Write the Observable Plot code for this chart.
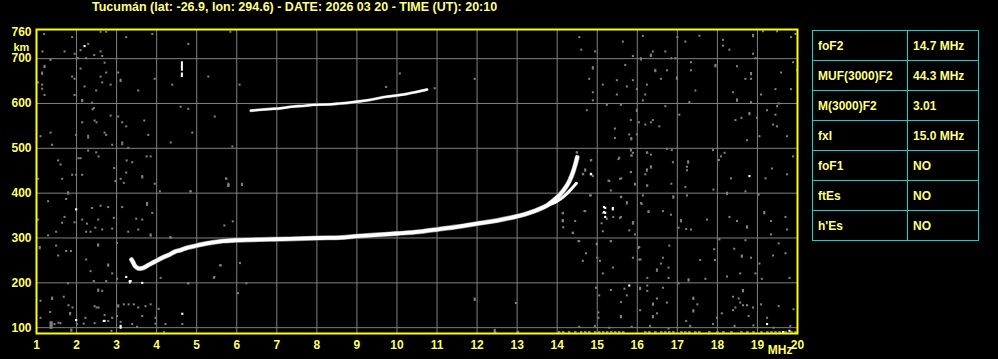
<!DOCTYPE html>
<html><head><meta charset="utf-8">
<script src="https://cdn.jsdelivr.net/npm/d3@7"></script>
<script src="https://cdn.jsdelivr.net/npm/@observablehq/plot@0.6"></script>
<style>
html,body{margin:0;padding:0;background:#000;}
#wrap{position:relative;width:998px;height:359px;overflow:hidden;background:#000;font-family:"Liberation Sans",Arial,sans-serif;font-weight:bold;}
#wrap svg{position:absolute;left:0;top:0;}
#title{position:absolute;left:92px;top:0px;font-size:12.5px;line-height:14px;color:#ffff80;white-space:nowrap;}
#params{position:absolute;left:812px;top:30px;border-collapse:collapse;}
#params td{border:1px solid #00d8d8;height:29px;padding:0 0 0 5px;font-size:12px;color:#ffff80;white-space:nowrap;vertical-align:middle;}
#params td.k{width:89px;}
#params td.v{width:65px;}
</style>
</head><body>
<div id="wrap"><div id="title"></div><table id="params"></table></div>
<script>
const titleText = "Tucumán (lat: -26.9, lon: 294.6) - DATE: 2026 03 20 - TIME (UT): 20:10";
const paramNames = ["foF2", "MUF(3000)F2", "M(3000)F2", "fxI", "foF1", "ftEs", "h'Es"];
const paramValues = ["14.7 MHz", "44.3 MHz", "3.01", "15.0 MHz", "NO", "NO", "NO"];
const xTicks = [1,2,3,4,5,6,7,8,9,10,11,12,13,14,15,16,17,18,19,20];
const yTicks = [100,200,300,400,500,600,700,760];
const yGrid = [100,200,300,400,500,600,700];

// F2 ordinary trace (MHz, km)
const oTraceF = [3.37,3.41,3.45,3.49,3.55,3.65,3.8,3.95,4.14,4.3,4.47,4.6,4.75,4.9,5.14,5.4,5.64,5.97,6.4,6.82,7.3,8.07,8.6,9.0,9.5,10.0,10.57,11.07,11.5,12.07,12.5,13.07,13.3,13.57,13.75,13.9,14.05,14.15,14.25,14.32,14.4,14.46,14.5];
const oTraceH = [252,246,239,235,232,233,240,247,256,262,270,273,278,281,286,290,293,295,296,297,298,300,301,304,307,310,314,320,325,333,339,350,356,365,373,383,395,405,418,430,448,466,480];
// F2 extraordinary trace
const xTraceF = [13.4,13.6,13.75,13.98,14.1,14.23,14.35,14.48];
const xTraceH = [358,366,372,381,388,398,409,422];
// second hop F2 trace
const hop2F = [6.35,6.6,6.9,7.07,7.4,7.7,7.9,8.3,8.57,8.9,9.32,9.73,10.0,10.23,10.5,10.75];
const hop2H = [584,586,588,589,593,595,597,598,600,603,608,615,618,621,626,631];
// short vertical echo
const echoF = [4.63,4.63];
const echoLow = [672,658];
const echoHigh = [693,668];

// grey noise echoes [MHz, km]
const noise = [
[1.19,755],[1.89,748],[2.6,760],[2.74,760],[3.24,748],[3.89,755],[4.79,733],[5.84,760],[1.15,716],[1.7,716],[1.95,711],[2.1,719],[2.29,733],[2.44,708],[2.64,706],[2.6,716],[2.03,701],[2.24,701],[1.35,697],[1.2,684],[1.2,681],[1.14,669],[1.14,666],[2.7,691],[2.1,678],[2.74,669],[3.04,669],[2.6,660],[3.1,653],[3.1,650],[1.89,660],[1.95,655],[2.64,647],[2.85,642],[3.95,655],[4.39,642],[5.29,660],[1.04,647],[1.14,642],[1.14,633],[1.2,619],[2.2,638],[2.49,629],[1.95,619],[3.54,629],[2.14,608],[2.14,605],[2.39,602],[2.43,590],[2.4,587],[2.85,573],[3.04,571],[3.14,558],[3.24,549],[3.69,562],[4.6,593],[4.79,588],[5.45,571],[2.14,558],[2.5,558],[2.45,562],[1.35,535],[1.1,527],[1.99,530],[2.29,528],[2.29,524],[2.7,535],[2.74,530],[3.79,530],[4.89,535],[4.35,513],[3.14,513],[3.14,509],[1.39,508],[2.89,508],[3.29,501],[5.89,504],[2.29,495],[2.49,491],[2.55,482],[2.05,478],[2.1,478],[1.54,473],[1.6,464],[3.25,473],[3.39,469],[3.75,482],[3.85,482],[2.94,456],[3.24,446],[3.64,438],[3.64,435],[1.89,441],[1.99,441],[2.14,441],[1.64,432],[3.1,432],[5.74,432],[1.04,432],
[1.79,402],[1.79,399],[2.97,427],[3.18,423],[3.95,421],[4.85,404],[5.79,419],[5.79,416],[1.29,382],[1.74,387],[2.39,367],[2.6,372],[2.79,369],[3.14,369],[3.76,378],[3.76,374],[3.89,356],[1.7,347],[1.04,341],[1.64,334],[1.95,335],[2.14,341],[2.54,341],[2.26,332],[2.93,345],[3.49,343],[3.64,341],[2.47,323],[2.64,319],[2.89,321],[2.24,314],[2.35,314],[3.29,314],[3.54,319],[3.85,308],[3.85,305],[1.29,306],[1.49,314],[1.08,280],[1.08,277],[1.49,283],[1.74,271],[1.86,271],[1.54,261],[2.54,286],[2.54,283],[3.01,289],[2.24,252],[2.79,241],[2.79,238],[2.35,226],[2.89,221],[3.01,209],[2.74,204],[4.1,211],[4.35,300],[5.6,239],[5.43,211],[4.79,199],[1.79,199],[2.43,204],[2.54,185],[2.54,182],[2.64,182],[1.68,169],[1.39,167],[1.39,164],[1.1,160],[1.8,150],[1.9,145],[2.45,148],[2.55,145],[2.5,145],[3.04,150],[3.04,147],[3.18,152],[3.3,152],[3.43,152],[3.54,145],[3.72,148],[3.85,152],[4.05,142],[1.34,135],[1.84,133],[1.84,130],[2.22,122],[2.7,128],[2.89,122],[3.01,126],[3.64,126],[3.97,122],[1.1,122],[1.55,111],[2.01,108],[2.18,109],[2.45,110],[2.79,115],[3.1,113],[3.39,108],[3.51,102],[3.97,109],[4.22,108],[4.64,108],[1.87,93],[1.87,96],[2.87,93],[4.18,90],[1.35,104],[1.38,104],[1.35,108],[1.38,108],[1.35,112],[1.38,112],[1.35,100],[1.38,100],[1.45,108],[1.6,110],
[10.07,667],[11.94,655],[11.94,162],[11.94,165],[6.03,177],[12.44,92],[12.44,95],[12.97,155],[13.02,90],[9.73,637],[10.94,634],[6.07,642],[5.73,433],[5.79,421],[5.79,418],[6.13,421],[6.13,418],[4.84,404],[4.08,404],[5.9,337],[5.69,328],[4.34,302],[6.08,244],[5.58,239],[5.44,213],[6.24,199],[4.79,199],
[14.55,748],[15.64,738],[16.14,751],[17.0,748],[17.2,738],[17.55,751],[18.14,742],[18.14,729],[18.89,753],[18.89,750],[19.14,761],[19.49,761],[19.84,748],[19.95,755],[14.6,720],[14.95,716],[15.89,706],[16.34,709],[16.34,706],[16.39,716],[16.7,716],[16.85,701],[16.95,701],[16.09,701],[16.09,698],[18.3,720],[18.89,711],[18.95,701],[14.89,681],[14.89,678],[15.7,686],[16.45,675],[16.45,672],[16.74,674],[17.34,692],[17.34,674],[17.95,686],[17.95,683],[18.49,683],[18.84,668],[18.84,665],[18.7,655],[18.84,655],[19.59,669],[19.89,692],[19.99,674],[14.8,655],[15.14,642],[15.49,652],[15.89,652],[15.74,638],[16.24,642],[16.59,655],[16.99,658],[16.99,655],[14.89,625],[15.49,620],[16.2,620],[15.99,632],[17.45,629],[18.39,625],[18.49,609],[18.49,606],[19.09,620],[19.45,632],[19.84,632],[14.89,607],[16.14,607],[17.3,603],[18.84,603],[19.53,600],[19.49,594],[15.24,597],[15.59,597],[16.7,594],[14.74,585],[15.99,586],[15.99,583],[17.05,575],[15.84,563],[16.04,558],[16.2,553],[16.34,558],[16.39,563],[16.55,549],[18.45,563],[18.6,568],[18.8,579],[18.8,576],[18.99,568],[19.24,585],[19.45,575],[19.39,553],[19.49,549],[15.44,544],[15.8,531],[15.85,523],[15.85,520],[15.44,523],[15.99,531],[19.05,527],[19.74,527],[18.74,518],[15.84,497],[15.89,490],[15.85,484],[16.25,490],[16.34,486],[16.74,499],[16.86,496],[15.55,479],[14.49,491],[14.45,460],[14.39,449],[14.39,446],[14.7,453],[14.7,450],[14.85,474],[14.65,442],[14.89,438],[15.84,447],[16.24,453],[16.34,460],[16.34,457],[16.2,442],[16.89,469],[17.27,471],[17.27,468],[17.24,459],[17.24,451],[17.89,496],[18.18,490],[18.09,482],[18.04,474],[18.34,433],[19.36,455],[19.74,442],[19.89,482],[19.2,433],[15.6,433],
[14.3,427],[15.3,427],[15.94,419],[16.25,417],[16.85,421],[17.2,414],[17.9,408],[18.24,401],[18.24,398],[18.7,404],[19.03,397],[14.84,395],[15.6,392],[15.74,380],[15.74,377],[16.09,378],[16.14,395],[16.9,393],[16.9,390],[17.24,395],[14.14,356],[14.68,360],[15.14,356],[15.24,343],[14.14,340],[14.14,337],[14.45,338],[14.39,312],[15.14,315],[15.59,347],[15.89,335],[15.89,332],[15.94,308],[16.28,360],[16.64,360],[16.84,352],[17.09,340],[17.09,337],[17.03,323],[17.22,320],[17.34,319],[17.74,341],[18.3,347],[18.49,338],[18.74,326],[18.74,323],[19.17,358],[19.17,355],[19.34,338],[19.74,319],[19.7,347],[19.34,308],[14.53,293],[14.99,286],[15.34,293],[14.72,266],[14.64,249],[15.07,249],[15.14,221],[15.39,234],[15.0,256],[16.03,278],[16.05,252],[16.08,252],[15.89,256],[16.49,230],[16.49,227],[16.59,243],[16.64,256],[16.78,234],[16.8,283],[16.25,211],[16.78,211],[17.28,208],[17.28,205],[17.57,251],[17.7,209],[17.92,275],[17.94,251],[18.05,297],[18.24,214],[18.42,276],[18.57,221],[18.61,261],[18.61,258],[18.7,295],[18.84,256],[18.95,221],[19.11,209],[19.39,261],[19.53,288],[19.7,266],[19.8,211],[19.05,243],[14.97,189],[15.05,172],[15.34,184],[15.59,157],[15.74,172],[15.68,187],[16.07,189],[16.07,186],[16.25,194],[16.25,182],[16.39,154],[16.39,151],[16.49,165],[16.49,132],[16.64,189],[16.74,156],[16.39,126],[16.39,123],[16.07,139],[17.03,199],[17.4,167],[17.4,164],[17.5,152],[17.4,139],[17.4,136],[17.22,115],[17.99,122],[18.11,132],[18.39,169],[18.53,165],[18.64,184],[18.64,181],[18.57,156],[18.64,150],[18.74,150],[18.39,139],[18.45,145],[18.78,126],[18.89,145],[19.09,152],[19.24,122],[19.53,148],[19.9,141],[15.03,134],[15.59,126],[15.59,123],[15.03,122],[14.55,102],[14.94,104],[15.3,100],[15.86,102],[16.32,104],[16.78,98],[17.32,104],[17.89,108],[18.43,104],[18.9,105],[19.4,100],[19.82,104],
[14.49,491],[14.84,473],[14.45,459],[14.64,443],[14.4,447],[15.53,476],[15.84,495],[15.86,484],[16.24,491],[16.24,450],[15.84,447],[16.24,417],[15.94,421],[15.57,432],[15.34,406],[15.28,428],[14.82,395],[14.14,355],[14.14,339],[14.15,324],[14.39,311],[14.7,360],[14.55,293],[15.34,293],[15.11,333],[15.4,347],[15.59,391],[15.57,345],[15.9,335],[16.11,376],[16.28,358],[15.8,317],[16.05,280],[14.99,287]
];
// bright (white) isolated echoes
const bright = [[2.2,728],[1.99,364],[3.24,213],[3.33,204],[3.35,204],[3.33,201],[3.64,200],[4.64,131],[3.1,104],[3.1,100],[2.68,115],[2.7,115],[1.99,117],[14.49,473],[14.85,442],[14.3,433],[18.8,438],[15.2,367],[15.2,356],[15.2,347],[15.39,367],[15.39,364],[15.8,194],[19.24,108],[19.64,90],[19.8,93],[15.17,369],[15.17,358],[14.84,443]];
// low-height interference clutter (MHz)
const clutterF = [12.45,13.02,14.05,14.15,14.3,14.45,14.6,14.7,14.8,14.95,15.05,15.15,15.25,15.35,15.45,15.55,15.65,16.2,16.3,16.45,16.6,16.7,16.8,16.9,17.1,17.2,17.3,17.45,17.55,17.8,18.0,18.15,18.35,18.6,18.75,18.9,19.1,19.25,19.35,19.45,19.55,19.7,19.85,19.95];
const clutterH = 90;

document.getElementById("title").textContent = titleText;
const tbl = document.getElementById("params");
paramNames.forEach((n, i) => {
  const tr = document.createElement("tr");
  const a = document.createElement("td"); a.className = "k"; a.textContent = n;
  const b = document.createElement("td"); b.className = "v"; b.textContent = paramValues[i];
  tr.appendChild(a); tr.appendChild(b); tbl.appendChild(tr);
});

const oTrace = oTraceF.map((f, i) => ({f, h: oTraceH[i]}));
const xTrace = xTraceF.map((f, i) => ({f, h: xTraceH[i]}));
const hop2 = hop2F.map((f, i) => ({f, h: hop2H[i]}));
const echo = echoF.map((f, i) => ({f, lo: echoLow[i], hi: echoHigh[i]}));
const clutter = clutterF.map(f => ({f, h: clutterH}));

const plot = Plot.plot({
  width: 998, height: 359,
  marginLeft: 36, marginRight: 201, marginTop: 29, marginBottom: 26,
  style: {background: "#000", color: "#ffff60", fontFamily: "'Liberation Sans', Arial, sans-serif", fontSize: "12px", fontWeight: "bold"},
  x: {domain: [1, 20]},
  y: {domain: [87, 765]},
  marks: [
    Plot.ruleX(xTicks, {stroke: "#808080", strokeWidth: 1}),
    Plot.ruleY(yGrid, {stroke: "#808080", strokeWidth: 1}),
    Plot.dot(noise, {x: d => d[0], y: d => d[1], symbol: "square", r: 1.15, fill: "#808080"}),
    Plot.dot(clutter, {x: "f", y: "h", symbol: "square", r: 1.4, fill: "#808080"}),
    Plot.dot(bright, {x: d => d[0], y: d => d[1], symbol: "square", r: 1.2, fill: "#ffffff"}),
    Plot.line(oTrace, {x: "f", y: "h", stroke: "#808080", strokeWidth: 5, curve: "catmull-rom"}),
    Plot.line(oTrace, {x: "f", y: "h", stroke: "#ffffff", strokeWidth: 3.8, curve: "catmull-rom"}),
    Plot.line(xTrace, {x: "f", y: "h", stroke: "#ffffff", strokeWidth: 3, curve: "catmull-rom"}),
    Plot.line(hop2, {x: "f", y: "h", stroke: "#808080", strokeWidth: 3, curve: "catmull-rom"}),
    Plot.line(hop2, {x: "f", y: "h", stroke: "#ffffff", strokeWidth: 2.2, curve: "catmull-rom"}),
    Plot.ruleX(echo, {x: "f", y1: "lo", y2: "hi", stroke: "#ffffff", strokeWidth: 2}),
    Plot.frame({stroke: "#ffff00", strokeWidth: 2}),
    Plot.axisX(xTicks, {tickSize: 0, tickPadding: 7, label: null, fontSize: 12, fontWeight: "bold"}),
    Plot.axisY(yTicks, {tickSize: 0, tickPadding: 5, label: null, fontSize: 12, fontWeight: "bold"}),
    Plot.text(["km"], {frameAnchor: "top-left", dx: -23, dy: 14, text: d => d, fill: "#ffff60", fontSize: 11, fontWeight: "bold"}),
    Plot.text(["MHz"], {frameAnchor: "bottom-right", dx: -5, dy: 20, textAnchor: "end", text: d => d, fill: "#ffff60", fontSize: 12, fontWeight: "bold"})
  ]
});
document.getElementById("wrap").insertBefore(plot, document.getElementById("title"));
</script>
</body></html>
